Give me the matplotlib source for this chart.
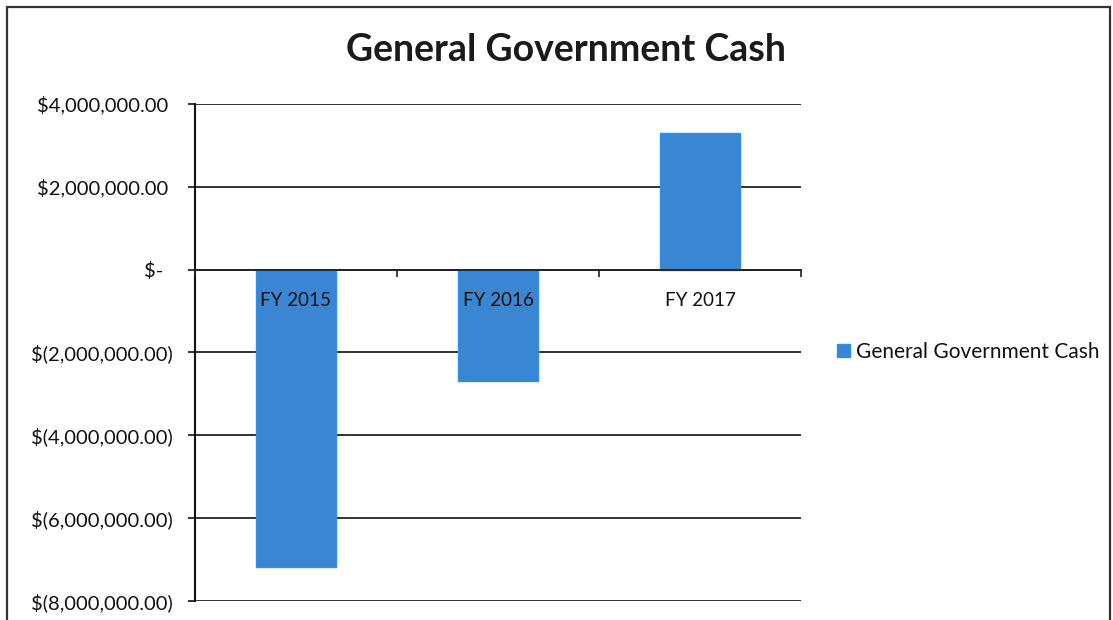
import matplotlib
matplotlib.use("Agg")
import matplotlib.pyplot as plt
from matplotlib.patches import Rectangle
from matplotlib.ticker import FixedLocator, FixedFormatter

plt.rcParams['font.family'] = ['Lato', 'DejaVu Sans']

# Data
categories = ["FY 2015", "FY 2016", "FY 2017"]
cash = [-7170000, -2680000, 3290000]
series_name = "General Government Cash"
y_ticks = [4000000, 2000000, 0, -2000000, -4000000, -6000000, -8000000]
y_tick_labels = ["$4,000,000.00 ", "$2,000,000.00 ", "$-  ",
                 "$(2,000,000.00)", "$(4,000,000.00)", "$(6,000,000.00)",
                 "$(8,000,000.00)"]

bar_color = "#3a86d2"
edge_color = "#2f8fe6"

fig = plt.figure(figsize=(11.13, 6.2), dpi=100)
fig.patch.set_facecolor("white")

# chart-area frame
fig.add_artist(Rectangle((7 / 1113, -0.05), (1110 - 7) / 1113, 1.05 - 7 / 620,
                         transform=fig.transFigure, fill=False,
                         edgecolor="#333333", linewidth=1.6, clip_on=False))

ax = fig.add_axes([195 / 1113, 1 - 601 / 620, (801 - 195) / 1113, (601 - 104) / 620])

x = list(range(len(categories)))
ax.bar(x, cash, width=0.4, color=bar_color, edgecolor=edge_color,
       linewidth=1.0, label=series_name, zorder=2)

ax.set_xlim(-0.5, len(categories) - 0.5)
ax.set_ylim(-8000000, 4000000)

# y axis
ax.yaxis.set_major_locator(FixedLocator(y_ticks))
ax.yaxis.set_major_formatter(FixedFormatter(y_tick_labels))
ax.tick_params(axis="y", direction="out", length=5, width=1.2, pad=10.8,
               labelsize=14.5, colors="#111111")
ax.grid(axis="y", color="#222222", linewidth=1.3)
ax.set_axisbelow(True)

# x axis sits on the zero line; boundary ticks, labels at category centres
ax.spines["bottom"].set_position(("data", 0))
ax.spines["bottom"].set_linewidth(1.3)
ax.spines["bottom"].set_color("#222222")
ax.spines["bottom"].set_zorder(3)
ax.spines["left"].set_linewidth(1.5)
ax.spines["left"].set_color("#111111")
ax.spines["top"].set_visible(False)
ax.spines["right"].set_visible(False)
ax.xaxis.set_major_locator(FixedLocator([i - 0.5 for i in range(len(categories) + 1)]))
ax.xaxis.set_major_formatter(FixedFormatter([""] * (len(categories) + 1)))
ax.xaxis.set_minor_locator(FixedLocator(x))
ax.xaxis.set_minor_formatter(FixedFormatter(categories))
ax.tick_params(axis="x", which="major", direction="out", length=5, width=1.2,
               colors="#222222")
ax.tick_params(axis="x", which="minor", length=0, pad=16, labelsize=13.5,
               labelcolor="#111111")
# category labels drawn on top of the bars, gridlines stay behind them
ax.yaxis.set_zorder(0.5)
ax.xaxis.set_zorder(5)

fig.text(565.5 / 1113, 1 - 50 / 620, "General Government Cash",
         ha="center", va="center", fontsize=27, fontweight="bold",
         color="#1a1a1a")

leg = fig.legend(loc="center left", bbox_to_anchor=(829 / 1113, 1 - 352 / 620),
                 frameon=False, fontsize=15.0, handlelength=0.6,
                 handleheight=0.6, handletextpad=0.3, borderaxespad=0)
for t in leg.get_texts():
    t.set_color("#111111")

fig.savefig("out.png", dpi=100, facecolor="white")
